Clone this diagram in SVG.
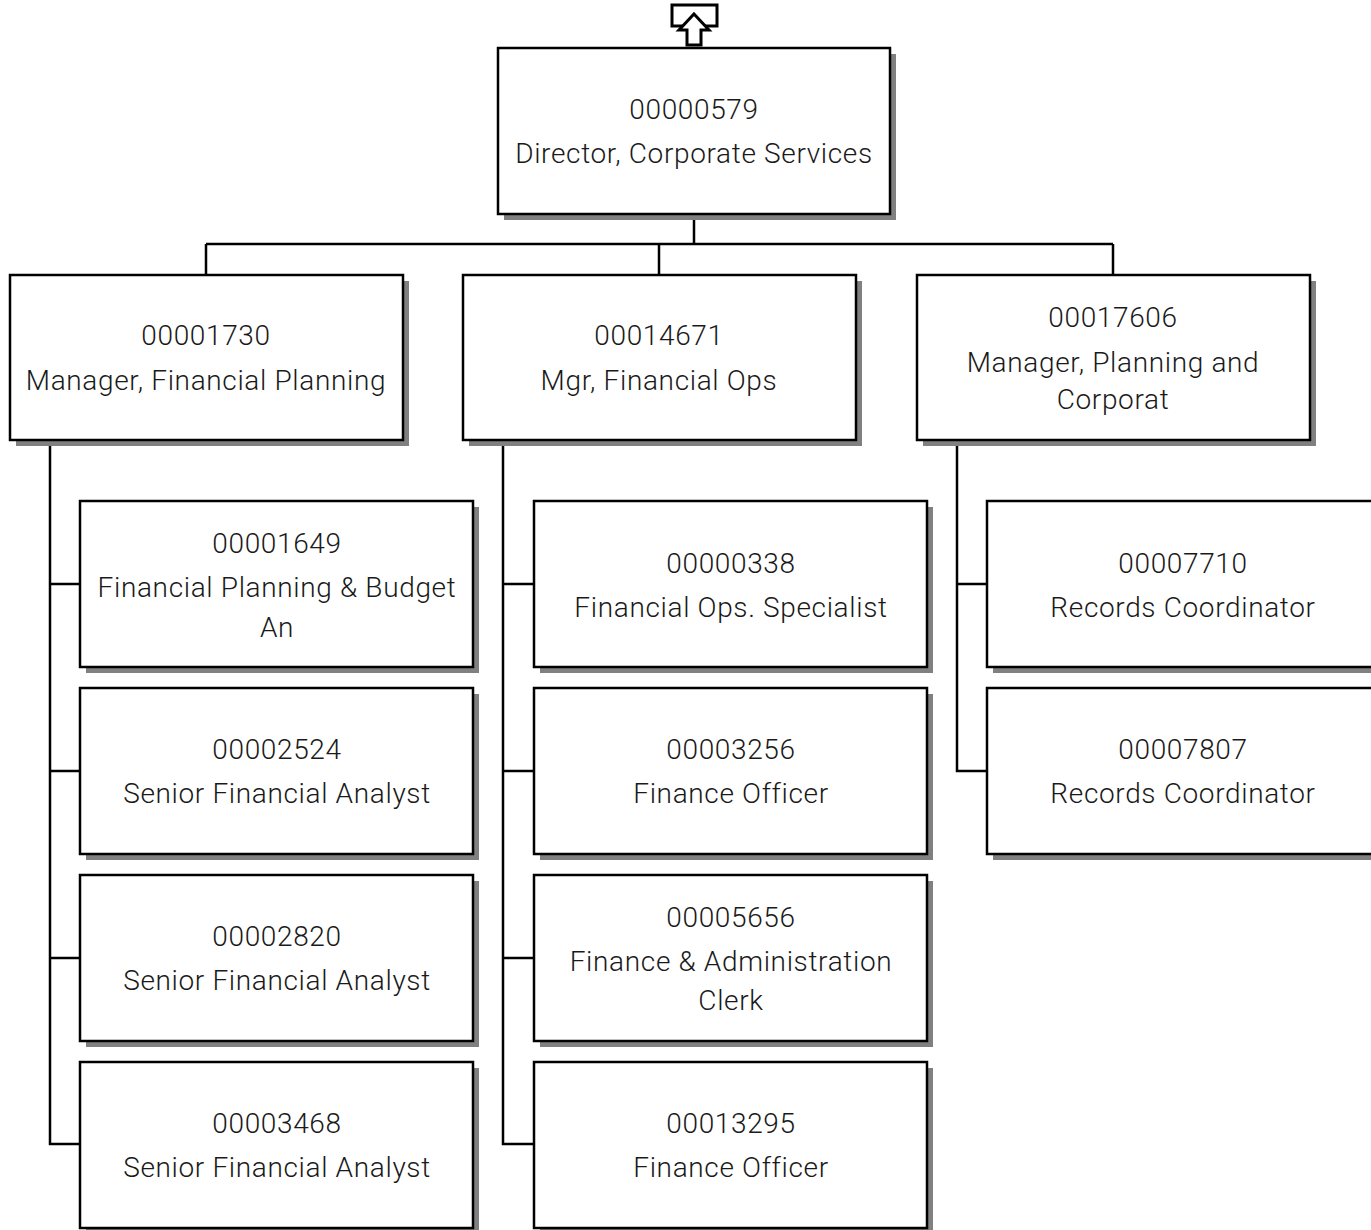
<svg xmlns="http://www.w3.org/2000/svg" width="1371" height="1230" viewBox="0 0 1371 1230">
<style>
.sh{fill:#808080}
.bx{fill:#fff;stroke:#000;stroke-width:2.5}
.t{font-family:Roboto,"Liberation Sans",sans-serif;font-weight:300;font-size:28px;letter-spacing:0.65px;fill:#1a1a1a;text-anchor:middle}
.c{stroke:#000;stroke-width:2.5;fill:none}
</style>
<rect width="1371" height="1230" fill="#fff"/>
<g id="connectors">
<path class="c" d="M694 214V244M206 244H1113M206 244V275M659 244V275M1113 244V275"/>
<path class="c" d="M50 440V1144H80M50 584H80M50 771H80M50 958H80"/>
<path class="c" d="M503 440V1144H534M503 584H534M503 771H534M503 958H534"/>
<path class="c" d="M957 440V771H987M957 584H987"/>
</g>
<g id="up-icon">
<rect x="672" y="5" width="45" height="21" fill="#fff" stroke="#000" stroke-width="3"/>
<polygon points="694,14 709,30 701,30 701,45 687,45 687,30 679,30" fill="#fff" stroke="#000" stroke-width="3" stroke-linejoin="miter"/>
</g>
<g id="n00000579">
<rect class="sh" x="504" y="54" width="392" height="166"/>
<rect class="bx" x="498" y="48" width="392" height="166"/>
<text class="t" x="694" y="119">00000579</text>
<text class="t" x="694" y="163">Director, Corporate Services</text>
</g>
<g id="n00001730">
<rect class="sh" x="16" y="281" width="393" height="165"/>
<rect class="bx" x="10" y="275" width="393" height="165"/>
<text class="t" x="206" y="345">00001730</text>
<text class="t" x="206" y="390">Manager, Financial Planning</text>
</g>
<g id="n00014671">
<rect class="sh" x="469" y="281" width="393" height="165"/>
<rect class="bx" x="463" y="275" width="393" height="165"/>
<text class="t" x="659" y="345">00014671</text>
<text class="t" x="659" y="390">Mgr, Financial Ops</text>
</g>
<g id="n00017606">
<rect class="sh" x="923" y="281" width="393" height="165"/>
<rect class="bx" x="917" y="275" width="393" height="165"/>
<text class="t" x="1113" y="327">00017606</text>
<text class="t" x="1113" y="372">Manager, Planning and</text>
<text class="t" x="1113" y="409">Corporat</text>
</g>
<g id="n00001649">
<rect class="sh" x="86" y="507" width="393" height="166"/>
<rect class="bx" x="80" y="501" width="393" height="166"/>
<text class="t" x="277" y="553">00001649</text>
<text class="t" x="277" y="597">Financial Planning &amp; Budget</text>
<text class="t" x="277" y="637">An</text>
</g>
<g id="n00002524">
<rect class="sh" x="86" y="694" width="393" height="166"/>
<rect class="bx" x="80" y="688" width="393" height="166"/>
<text class="t" x="277" y="759">00002524</text>
<text class="t" x="277" y="803">Senior Financial Analyst</text>
</g>
<g id="n00002820">
<rect class="sh" x="86" y="881" width="393" height="166"/>
<rect class="bx" x="80" y="875" width="393" height="166"/>
<text class="t" x="277" y="946">00002820</text>
<text class="t" x="277" y="990">Senior Financial Analyst</text>
</g>
<g id="n00003468">
<rect class="sh" x="86" y="1068" width="393" height="166"/>
<rect class="bx" x="80" y="1062" width="393" height="166"/>
<text class="t" x="277" y="1133">00003468</text>
<text class="t" x="277" y="1177">Senior Financial Analyst</text>
</g>
<g id="n00000338">
<rect class="sh" x="540" y="507" width="393" height="166"/>
<rect class="bx" x="534" y="501" width="393" height="166"/>
<text class="t" x="731" y="573">00000338</text>
<text class="t" x="731" y="617">Financial Ops. Specialist</text>
</g>
<g id="n00003256">
<rect class="sh" x="540" y="694" width="393" height="166"/>
<rect class="bx" x="534" y="688" width="393" height="166"/>
<text class="t" x="731" y="759">00003256</text>
<text class="t" x="731" y="803">Finance Officer</text>
</g>
<g id="n00005656">
<rect class="sh" x="540" y="881" width="393" height="166"/>
<rect class="bx" x="534" y="875" width="393" height="166"/>
<text class="t" x="731" y="927">00005656</text>
<text class="t" x="731" y="971">Finance &amp; Administration</text>
<text class="t" x="731" y="1010">Clerk</text>
</g>
<g id="n00013295">
<rect class="sh" x="540" y="1068" width="393" height="166"/>
<rect class="bx" x="534" y="1062" width="393" height="166"/>
<text class="t" x="731" y="1133">00013295</text>
<text class="t" x="731" y="1177">Finance Officer</text>
</g>
<g id="n00007710">
<rect class="sh" x="993" y="507" width="393" height="166"/>
<rect class="bx" x="987" y="501" width="393" height="166"/>
<text class="t" x="1183" y="573">00007710</text>
<text class="t" x="1183" y="617">Records Coordinator</text>
</g>
<g id="n00007807">
<rect class="sh" x="993" y="694" width="393" height="166"/>
<rect class="bx" x="987" y="688" width="393" height="166"/>
<text class="t" x="1183" y="759">00007807</text>
<text class="t" x="1183" y="803">Records Coordinator</text>
</g>
</svg>
